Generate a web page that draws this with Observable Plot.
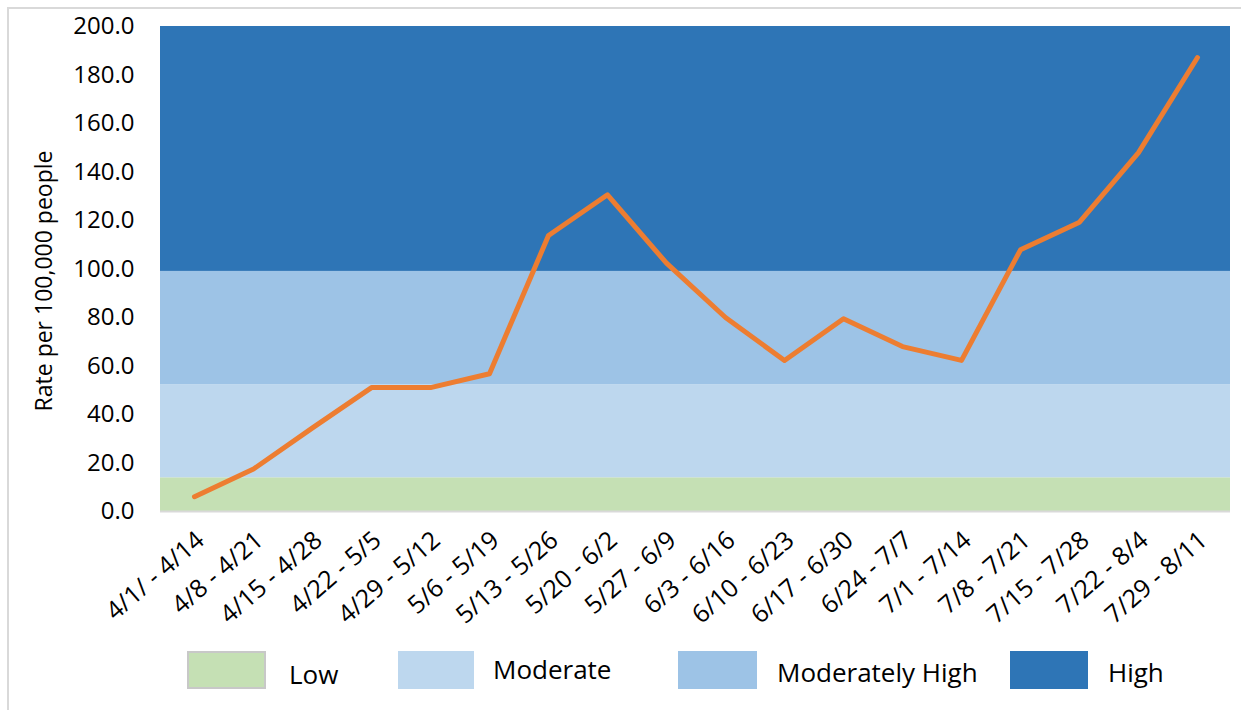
<!DOCTYPE html>
<html>
<head>
<meta charset="utf-8">
<script src="https://cdn.jsdelivr.net/npm/d3@7"></script>
<script src="https://cdn.jsdelivr.net/npm/@observablehq/plot@0.6"></script>
<style>
  html, body { margin: 0; padding: 0; background: #fff; overflow: hidden; }
  body { width: 1241px; height: 710px; position: relative; font-family: "Open Sans", sans-serif; }
  #frame { position: absolute; left: 7px; top: 7px; width: 1400px; height: 900px; border-left: 2px solid #d9d9d9; border-top: 2px solid #d9d9d9; box-sizing: border-box; pointer-events: none; }
  #chart { position: absolute; left: 0; top: 0; }
  #legend { position: absolute; left: 0; top: 645px; width: 1241px; height: 65px; }
  .lbox { position: absolute; box-sizing: border-box; }
  .ltext { position: absolute; font-size: 26px; color: #000; line-height: 1; white-space: nowrap; }
</style>
</head>
<body>
<div id="frame"></div>
<div id="chart"></div>
<div id="legend"></div>
<script>
// Weeks (x categories)
const weeks = ["4/1/ - 4/14", "4/8 - 4/21", "4/15 - 4/28", "4/22 - 5/5", "4/29 - 5/12", "5/6 - 5/19",
  "5/13 - 5/26", "5/20 - 6/2", "5/27 - 6/9", "6/3 - 6/16", "6/10 - 6/23", "6/17 - 6/30",
  "6/24 - 7/7", "7/1 - 7/14", "7/8 - 7/21", "7/15 - 7/28", "7/22 - 8/4", "7/29 - 8/11"];
// Rate per 100,000 people
const rates = [6.1, 17.5, 34.5, 51.1, 51.1, 56.8, 113.8, 130.6, 102.4, 80.0, 62.3, 79.5, 68.0, 62.3, 107.9, 119.3, 148.0, 187.2];
// Risk bands
const bandNames = ["Low", "Moderate", "Moderately High", "High"];
const bandLow = [0, 13.9, 52.3, 99.0];
const bandHigh = [13.9, 52.3, 99.0, 200];
const bandColors = ["#C5E0B4", "#BDD7EE", "#9DC3E6", "#2E75B6"];
// Y ticks
const yTicks = [0, 20, 40, 60, 80, 100, 120, 140, 160, 180, 200];
const yLabel = "Rate per 100,000 people";

const data = weeks.map((w, i) => ({week: w, rate: rates[i]}));
const bands = bandNames.map((n, i) => ({name: n, lo: bandLow[i], hi: bandHigh[i], color: bandColors[i]}));

const chart = Plot.plot({
  width: 1241,
  height: 645,
  marginTop: 26,
  marginBottom: 134,
  marginLeft: 160,
  marginRight: 11,
  style: {fontFamily: "'Open Sans', sans-serif", background: "transparent", color: "#000"},
  x: {type: "point", domain: weeks, padding: 0.5},
  y: {domain: [0, 200]},
  marks: [
    Plot.rect(bands, {y1: "lo", y2: "hi", fill: "color"}),
    Plot.ruleY([0], {stroke: "#d9d9d9", strokeWidth: 2}),
    Plot.line(data, {x: "week", y: "rate", stroke: "#ED7D31", strokeWidth: 5, strokeLinecap: "round", strokeLinejoin: "round"}),
    Plot.axisY({ticks: yTicks, tickFormat: d3.format(".1f"), tickSize: 0, tickPadding: 26, fontSize: 24, label: null}),
    Plot.axisX({tickRotate: -41, tickSize: 0, tickPadding: 25, dx: 6, fontSize: 25, label: null}),
    Plot.text([yLabel], {frameAnchor: "left", textAnchor: "middle", rotate: -90, dx: -116, dy: 12, fontSize: 23, fill: "#000"})
  ]
});
document.getElementById("chart").appendChild(chart);

// Legend built from band arrays
const legendBoxes = [{x: 187, w: 79}, {x: 398, w: 76}, {x: 678, w: 79}, {x: 1010, w: 78}];
const legendText = [{x: 289, y: 30}, {x: 493, y: 25}, {x: 777, y: 28}, {x: 1108, y: 28}];
const legend = document.getElementById("legend");
bands.forEach((b, i) => {
  const box = document.createElement("div");
  box.className = "lbox";
  box.style.left = legendBoxes[i].x + "px";
  box.style.top = "6px";
  box.style.width = legendBoxes[i].w + "px";
  box.style.height = "38px";
  box.style.background = b.color;
  if (i === 0) box.style.border = "2px solid #c8c8c8";
  legend.appendChild(box);
  const t = document.createElement("div");
  t.className = "ltext";
  t.textContent = b.name;
  t.style.left = legendText[i].x + "px";
  t.style.top = (legendText[i].y - 14) + "px";
  legend.appendChild(t);
});
</script>
</body>
</html>
